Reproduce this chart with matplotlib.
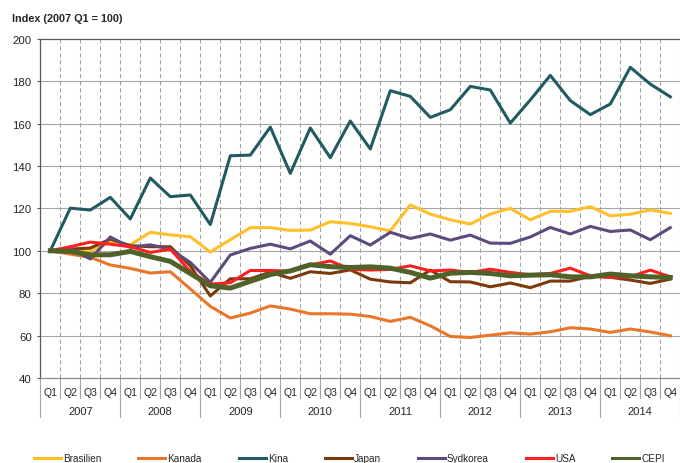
import matplotlib
matplotlib.use('Agg')
import matplotlib.pyplot as plt
from matplotlib.lines import Line2D

plt.rcParams['font.family'] = ['Liberation Sans', 'DejaVu Sans']

YEARS    = ["2007", "2008", "2009", "2010", "2011", "2012", "2013", "2014"]
QUARTERS = ["Q1", "Q2", "Q3", "Q4"]

brasilien = [100, 100.5, 100.0, 104.0, 102.8, 108.7, 107.5, 106.6, 99.4, 105.2, 110.9, 110.9,
             109.6, 109.7, 113.7, 112.9, 111.3, 109.4, 121.6, 117.3, 114.6, 112.6, 117.3, 120.0,
             114.6, 118.6, 118.6, 120.8, 116.5, 117.2, 119.3, 117.6]
kanada    = [100, 98.4, 96.9, 93.3, 91.7, 89.5, 90.1, 82.0, 73.8, 68.3, 70.6, 74.0,
             72.5, 70.3, 70.3, 70.1, 69.0, 66.7, 68.6, 64.6, 59.6, 59.1, 60.2, 61.3,
             60.7, 61.8, 63.7, 63.1, 61.5, 63.1, 61.7, 59.9]
kina      = [100, 120.1, 119.2, 125.2, 115.0, 134.3, 125.5, 126.3, 112.4, 144.8, 145.1, 158.3,
             136.5, 157.9, 143.9, 161.2, 148.0, 175.5, 172.8, 162.9, 166.5, 177.5, 175.8, 160.2,
             171.1, 182.7, 170.8, 164.2, 169.2, 186.5, 178.6, 172.6]
japan     = [100, 100.8, 101.3, 105.5, 102.4, 101.9, 101.9, 92.9, 78.7, 86.8, 86.8, 89.9,
             87.0, 90.1, 89.3, 91.0, 86.6, 85.3, 84.9, 90.9, 85.4, 85.3, 83.0, 84.8,
             82.6, 85.7, 85.7, 88.0, 87.5, 86.2, 84.6, 86.6]
sydkorea  = [100, 101.1, 96.1, 106.5, 101.6, 102.8, 100.8, 94.5, 85.1, 98.0, 101.1, 103.1,
             100.9, 104.6, 98.4, 107.1, 102.7, 108.7, 105.8, 107.9, 105.0, 107.4, 103.6, 103.5,
             106.5, 111.0, 107.9, 111.5, 109.1, 109.8, 105.2, 110.9]
usa       = [100, 101.9, 104.1, 103.1, 101.9, 99.2, 100.8, 90.2, 84.3, 84.9, 90.7, 90.7,
             90.4, 93.3, 95.2, 91.3, 90.9, 91.2, 92.9, 90.5, 90.9, 89.8, 91.3, 89.8,
             88.7, 89.3, 91.8, 88.2, 87.4, 87.7, 90.9, 87.7]
cepi      = [100, 99.7, 98.1, 98.1, 99.7, 97.2, 95.0, 89.3, 83.5, 82.4, 85.6, 88.8,
             90.5, 93.4, 92.5, 92.1, 92.4, 91.8, 89.8, 87.1, 89.4, 89.8, 89.3, 88.2,
             88.5, 88.7, 87.7, 87.7, 89.0, 88.2, 87.7, 87.4]

SERIES = [
    ("Brasilien", brasilien, "#FFBF2B", 2.2),
    ("Kanada",    kanada,    "#E8772A", 2.2),
    ("Kina",      kina,      "#215A62", 2.2),
    ("Japan",     japan,     "#7A3A0C", 2.2),
    ("Sydkorea",  sydkorea,  "#5E4B7D", 2.2),
    ("USA",       usa,       "#FF1F1F", 2.2),
    ("CEPI",      cepi,      "#4E6229", 3.6),
]

TXT = '#262626'
n = len(YEARS) * len(QUARTERS)
x = list(range(n))

fig = plt.figure(figsize=(6.8, 4.64), dpi=100)
ax = fig.add_axes([40.3 / 680, 85 / 464, 640 / 680, 339.3 / 464])

# horizontal grid (solid) + vertical grid (dashed, at category boundaries)
for v in range(60, 200, 20):
    ax.axhline(v, color='#A6A6A6', lw=0.8, zorder=0)
for k in range(1, n + 1):
    ax.axvline(k - 0.5, color='#A0A0A0', lw=0.75, ls=(0, (4, 2.7)), zorder=0)

for name, vals, col, lw in SERIES:
    ax.plot(x, vals, color=col, lw=lw, solid_joinstyle='round', zorder=3)

ax.set_xlim(-0.5, n - 0.5)
ax.set_ylim(40, 200)
ax.set_yticks(range(40, 201, 20))
ax.tick_params(axis='y', length=2.2, width=0.8, color='#595959', pad=4,
               labelsize=8.2, labelcolor=TXT)
ax.set_xticks([])
ax.spines['right'].set_visible(False)
ax.spines['left'].set_color('#595959')
ax.spines['top'].set_color('#595959')
ax.spines['bottom'].set_color('#8C8C8C')
for s in ['left', 'top', 'bottom']:
    ax.spines[s].set_linewidth(0.9)

# two-level category axis: quarters, then years
trans = ax.get_xaxis_transform()
h = 339.3
for i in x:
    ax.annotate(QUARTERS[i % 4], (i, 0), xycoords=trans, xytext=(0, -10),
                textcoords='offset points', ha='center', va='center',
                fontsize=7.5, color=TXT)
for j, yr in enumerate(YEARS):
    ax.annotate(yr, (j * 4 + 1.5, 0), xycoords=trans, xytext=(0, -23.8),
                textcoords='offset points', ha='center', va='center',
                fontsize=8, color=TXT)
for k in range(n + 1):
    depth = 39 if k % 4 == 0 else 20
    ax.plot([k - 0.5, k - 0.5], [0, -depth / h], transform=trans,
            color='#A6A6A6', lw=0.8, clip_on=False)

fig.text(12 / 680, 1 - 19 / 464, "Index (2007 Q1 = 100)", ha='left', va='center',
         fontsize=7.8, fontweight='bold', color=TXT)

handles = [Line2D([0], [0], color=col, lw=2.2) for _, _, col, _ in SERIES]
labels = [name for name, _, _, _ in SERIES]
fig.legend(handles, labels, loc='center left', bbox_to_anchor=(34 / 680, 5 / 464),
           ncol=7, frameon=False, fontsize=7.2, handlelength=2.7, handletextpad=0.2,
           columnspacing=3.7, borderpad=0, borderaxespad=0, labelcolor=TXT)

fig.savefig('out.png', dpi=100)
